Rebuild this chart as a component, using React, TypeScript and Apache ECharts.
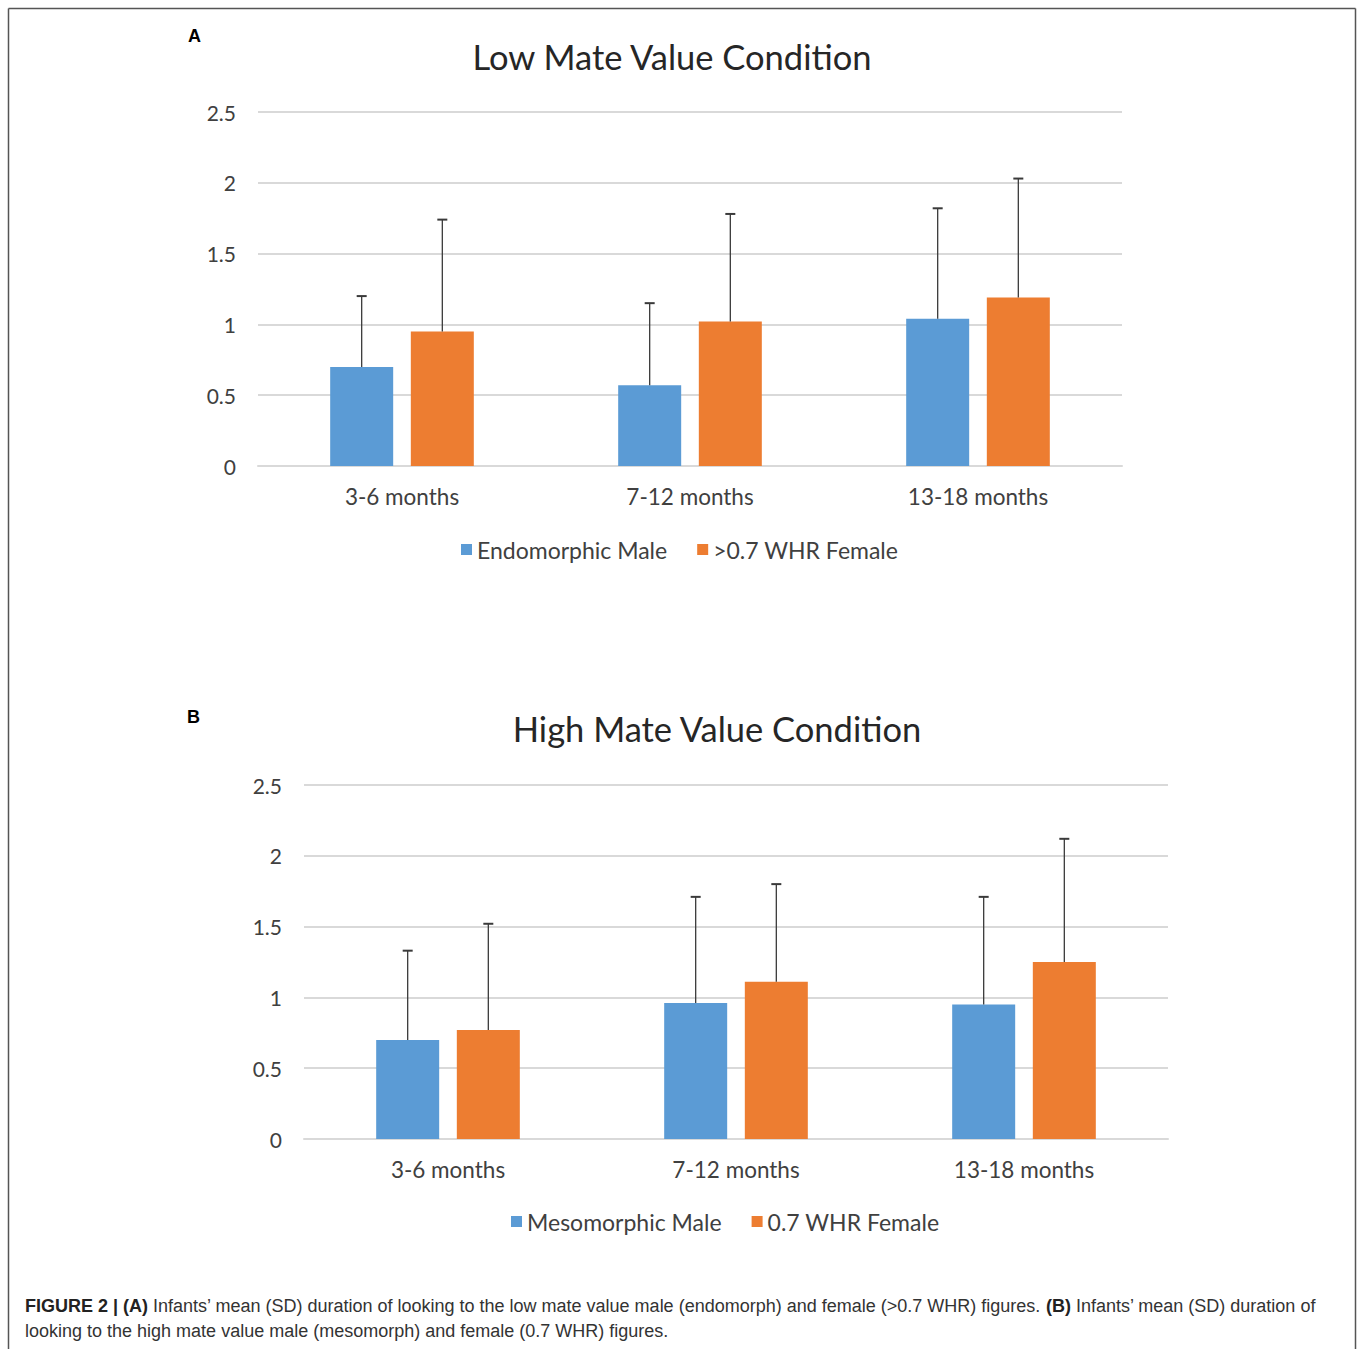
import React, { useEffect, useRef } from "react";
import * as echarts from "echarts";

const categories = ["3-6 months", "7-12 months", "13-18 months"];
const yTicks = [0, 0.5, 1, 1.5, 2, 2.5];

const lowMaleName = "Endomorphic Male";
const lowFemaleName = ">0.7 WHR Female";
const lowMaleMean = [0.7, 0.57, 1.04];
const lowMaleSD = [0.5, 0.58, 0.78];
const lowFemaleMean = [0.95, 1.02, 1.19];
const lowFemaleSD = [0.79, 0.76, 0.84];

const highMaleName = "Mesomorphic Male";
const highFemaleName = "0.7 WHR Female";
const highMaleMean = [0.7, 0.96, 0.95];
const highMaleSD = [0.63, 0.75, 0.76];
const highFemaleMean = [0.77, 1.11, 1.25];
const highFemaleSD = [0.75, 0.69, 0.87];

const BLUE = "#5B9BD5";
const ORANGE = "#ED7D31";
const GRID = "#D9D9D9";
const TXT = "#404040";
const FONT = "Lato, 'Open Sans', sans-serif";
const BAR_W = 63;
const BAR_GAP = 0.28;

function errSeries(axis: number, means: number[], sds: number[], side: number) {
  return {
    type: "custom",
    xAxisIndex: axis,
    yAxisIndex: axis,
    z: 5,
    silent: true,
    data: means.map((m, i) => [i, m, sds[i]]),
    encode: { x: 0, y: 1 },
    renderItem: (params: any, api: any) => {
      const idx = api.value(0);
      const m = api.value(1);
      const sd = api.value(2);
      const off = side * (BAR_W + BAR_W * BAR_GAP) / 2;
      const base = api.coord([idx, m]);
      const top = api.coord([idx, m + sd]);
      const x = base[0] + off;
      return {
        type: "group",
        children: [
          { type: "line", shape: { x1: x, y1: base[1], x2: x, y2: top[1] }, style: { stroke: "#3a3a3a", lineWidth: 1.3 } },
          { type: "line", shape: { x1: x - 5, y1: top[1], x2: x + 5, y2: top[1] }, style: { stroke: "#3a3a3a", lineWidth: 2 } },
        ],
      };
    },
  };
}

export default function App() {
  const ref = useRef<HTMLDivElement>(null);
  useEffect(() => {
    document.body.style.margin = "0";
    const chart = echarts.init(ref.current!, undefined, { renderer: "svg" });
    const mkX = (gi: number) => ({
      type: "category",
      gridIndex: gi,
      data: categories,
      axisLine: { show: true, lineStyle: { color: GRID, width: 2 } },
      axisTick: { show: false },
      axisLabel: { color: TXT, fontSize: 22.5, fontFamily: FONT, margin: 19 },
    });
    const mkY = (gi: number) => ({
      type: "value",
      gridIndex: gi,
      min: yTicks[0],
      max: yTicks[yTicks.length - 1],
      interval: 0.5,
      axisLine: { show: false },
      axisTick: { show: false },
      splitLine: { lineStyle: { color: GRID, width: 2 } },
      axisLabel: { color: TXT, fontSize: 21, fontFamily: FONT, margin: 22 },
    });
    const bar = (axis: number, name: string, data: number[], color: string) => ({
      type: "bar",
      name,
      xAxisIndex: axis,
      yAxisIndex: axis,
      data,
      barWidth: BAR_W,
      barGap: BAR_GAP * 100 + "%",
      itemStyle: { color },
    });
    const legendBase = {
      icon: "rect",
      itemWidth: 11,
      itemHeight: 11,
      itemGap: 30,
      textStyle: { color: TXT, fontSize: 23, fontFamily: FONT },
    };
    chart.setOption({
      animation: false,
      backgroundColor: "#ffffff",
      title: [
        { text: "Low Mate Value Condition", left: 667, top: 34, textAlign: "center", textStyle: { color: "#262626", fontSize: 34.5, fontWeight: "normal", fontFamily: FONT } },
        { text: "High Mate Value Condition", left: 712, top: 706, textAlign: "center", textStyle: { color: "#262626", fontSize: 34.5, fontWeight: "normal", fontFamily: FONT } },
      ],
      grid: [
        { left: 258, top: 112, width: 864, height: 354 },
        { left: 304, top: 785, width: 864, height: 354 },
      ],
      xAxis: [mkX(0), mkX(1)],
      yAxis: [mkY(0), mkY(1)],
      legend: [
        { ...legendBase, data: [lowMaleName, lowFemaleName], top: 533, left: 456 },
        { ...legendBase, data: [highMaleName, highFemaleName], top: 1205, left: 506 },
      ],
      series: [
        bar(0, lowMaleName, lowMaleMean, BLUE),
        bar(0, lowFemaleName, lowFemaleMean, ORANGE),
        errSeries(0, lowMaleMean, lowMaleSD, -1),
        errSeries(0, lowFemaleMean, lowFemaleSD, 1),
        bar(1, highMaleName, highMaleMean, BLUE),
        bar(1, highFemaleName, highFemaleMean, ORANGE),
        errSeries(1, highMaleMean, highMaleSD, -1),
        errSeries(1, highFemaleMean, highFemaleSD, 1),
      ],
      graphic: [
        { type: "line", shape: { x1: 8.5, y1: 1349, x2: 8.5, y2: 8.5 }, style: { stroke: "#555", lineWidth: 1.5 } },
        { type: "line", shape: { x1: 8.5, y1: 8.5, x2: 1355.5, y2: 8.5 }, style: { stroke: "#555", lineWidth: 1.5 } },
        { type: "line", shape: { x1: 1355.5, y1: 8.5, x2: 1355.5, y2: 1349 }, style: { stroke: "#555", lineWidth: 1.5 } },
        { type: "text", left: 188, top: 27, style: { text: "A", font: "bold 18px 'Liberation Sans', Arial, sans-serif", fill: "#000" } },
        { type: "text", left: 187, top: 708, style: { text: "B", font: "bold 18px 'Liberation Sans', Arial, sans-serif", fill: "#000" } },
        {
          type: "text",
          left: 25,
          top: 1293,
          style: {
            text: "{b|FIGURE 2 | (A)} Infants’ mean (SD) duration of looking to the low mate value male (endomorph) and female (>0.7 WHR) figures. {b|(B)} Infants’ mean (SD) duration of\nlooking to the high mate value male (mesomorph) and female (0.7 WHR) figures.",
            font: "18px 'Liberation Sans', Arial, sans-serif",
            fill: "#333",
            lineHeight: 25,
            rich: {
              b: { fontWeight: "bold", fontSize: 18, fontFamily: "'Liberation Sans', Arial, sans-serif", fill: "#222", lineHeight: 25 },
            },
          },
        },
      ],
    });
    return () => chart.dispose();
  }, []);
  return <div ref={ref} style={{ width: 1358, height: 1349 }} />;
}
